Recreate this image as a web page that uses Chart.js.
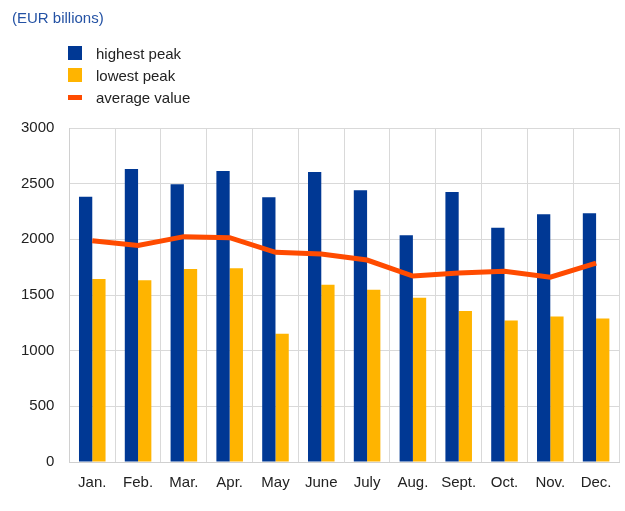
<!DOCTYPE html>
<html>
<head>
<meta charset="utf-8">
<script src="https://cdn.jsdelivr.net/npm/chart.js@4"></script>
<style>
  html, body { margin: 0; padding: 0; background: #fff; }
  #wrap { position: relative; width: 625px; height: 511px; font-family: "Liberation Sans", Arial, sans-serif; }
  #title { position: absolute; left: 12px; top: 9px; font-size: 15px; color: #2452a4; }
  #legend { position: absolute; left: 68px; top: 42px; font-size: 15px; color: #222; }
  .item { height: 22px; display: flex; align-items: center; }
  .sw { display: inline-block; margin-right: 14px; }
</style>
</head>
<body>
<div id="wrap">
  <canvas id="c" width="625" height="511"></canvas>
  <div id="title">(EUR billions)</div>
  <div id="legend"></div>
</div>
<script>
const categories = ["Jan.", "Feb.", "Mar.", "Apr.", "May", "June", "July", "Aug.", "Sept.", "Oct.", "Nov.", "Dec."];
const highestPeak = [2383, 2632, 2494, 2614, 2377, 2605, 2440, 2036, 2425, 2104, 2225, 2234];
const lowestPeak = [1644, 1632, 1734, 1740, 1153, 1592, 1548, 1476, 1357, 1272, 1306, 1288];
const averageValue = [1988, 1944, 2024, 2015, 1883, 1868, 1814, 1670, 1697, 1713, 1660, 1786];
const yTicks = [0, 500, 1000, 1500, 2000, 2500, 3000];

const BLUE = "#003894", YELLOW = "#ffb400", ORANGE = "#ff4b00";
const datasets = [
  { type: "line", label: "average value", data: averageValue, borderColor: ORANGE, backgroundColor: ORANGE,
    borderWidth: 5, pointRadius: 0, tension: 0, order: 0 },
  { type: "bar", label: "highest peak", data: highestPeak, backgroundColor: BLUE, order: 1,
    categoryPercentage: 0.58, barPercentage: 1.0 },
  { type: "bar", label: "lowest peak", data: lowestPeak, backgroundColor: YELLOW, order: 1,
    categoryPercentage: 0.58, barPercentage: 1.0 }
];

const legendOrder = [1, 2, 0];
const lg = document.getElementById("legend");
legendOrder.forEach(i => {
  const d = datasets[i];
  const row = document.createElement("div");
  row.className = "item";
  const sw = document.createElement("span");
  sw.className = "sw";
  if (d.type === "line") { sw.style.width = "14px"; sw.style.height = "5px"; sw.style.background = d.borderColor; }
  else { sw.style.width = "14px"; sw.style.height = "14px"; sw.style.background = d.backgroundColor; }
  row.appendChild(sw);
  row.appendChild(document.createTextNode(d.label));
  lg.appendChild(row);
});

new Chart(document.getElementById("c"), {
  data: { labels: categories, datasets: datasets },
  options: {
    responsive: false,
    animation: false,
    layout: { padding: { top: 128, left: 6, right: 6, bottom: 7 } },
    plugins: { legend: { display: false }, tooltip: { enabled: false } },
    scales: {
      x: {
        offset: true,
        grid: { color: "#d9d9d9", lineWidth: 1, drawTicks: false, offset: true },
        border: { color: "#d0d0d0" },
        ticks: { color: "#222", font: { family: "Liberation Sans, Arial", size: 15 }, padding: 12 }
      },
      y: {
        min: 0, max: 3000,
        afterBuildTicks: s => { s.ticks = yTicks.map(v => ({ value: v })); },
        grid: { color: "#d9d9d9", lineWidth: 1, drawTicks: false },
        border: { color: "#d0d0d0" },
        ticks: { color: "#222", font: { family: "Liberation Sans, Arial", size: 15 }, padding: 15,
                 callback: v => String(v) }
      }
    }
  }
});
</script>
</body>
</html>
